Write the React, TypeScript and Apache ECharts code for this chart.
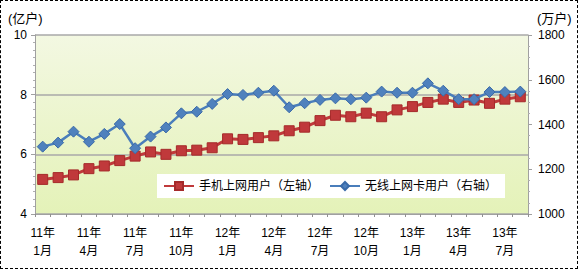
import React, { useEffect, useRef } from "react";
import * as echarts from "echarts";

const categories: string[] = [
  "11年\n1月", "11年\n2月", "11年\n3月", "11年\n4月", "11年\n5月", "11年\n6月",
  "11年\n7月", "11年\n8月", "11年\n9月", "11年\n10月", "11年\n11月", "11年\n12月",
  "12年\n1月", "12年\n2月", "12年\n3月", "12年\n4月", "12年\n5月", "12年\n6月",
  "12年\n7月", "12年\n8月", "12年\n9月", "12年\n10月", "12年\n11月", "12年\n12月",
  "13年\n1月", "13年\n2月", "13年\n3月", "13年\n4月", "13年\n5月", "13年\n6月",
  "13年\n7月", "13年\n8月",
];

const mobileUsers: number[] = [
  5.16, 5.22, 5.31, 5.52, 5.61, 5.79, 5.94, 6.08, 6.0, 6.12, 6.14, 6.22,
  6.52, 6.5, 6.56, 6.62, 6.79, 6.91, 7.13, 7.31, 7.26, 7.38, 7.26, 7.49,
  7.6, 7.74, 7.85, 7.74, 7.82, 7.71, 7.85, 7.93,
];

const cardUsers: number[] = [
  1301, 1319, 1368, 1323, 1358, 1402, 1294, 1346, 1387, 1450, 1457, 1492,
  1536, 1532, 1542, 1551, 1477, 1495, 1510, 1517, 1513, 1520, 1547, 1542,
  1542, 1584, 1551, 1513, 1513, 1545, 1545, 1547,
];

const seriesNames: string[] = ["手机上网用户（左轴）", "无线上网卡用户（右轴）"];
const leftUnit = "(亿户)";
const rightUnit = "(万户)";

const FONT = "'Liberation Sans', 'Noto Sans CJK SC', sans-serif";

export default function App() {
  const ref = useRef<HTMLDivElement>(null);
  useEffect(() => {
    document.body.style.margin = "0";
    const chart = echarts.init(ref.current!, null, { renderer: "svg" });
    chart.setOption({
      animation: false,
      textStyle: { fontFamily: FONT },
      grid: {
        left: 35,
        right: 50,
        top: 35,
        bottom: 55,
        show: true,
        borderWidth: 0,
        backgroundColor: new echarts.graphic.LinearGradient(0, 0, 0, 1, [
          { offset: 0, color: "#f3f8e2" },
          { offset: 1, color: "#e4f2b8" },
        ]),
      },
      legend: {
        left: 157,
        top: 174,
        itemWidth: 30,
        itemHeight: 10,
        itemGap: 10,
        backgroundColor: "#ffffff",
        padding: [6, 8, 6, 6],
        textStyle: { fontSize: 12, color: "#000", fontFamily: FONT },
        data: seriesNames,
      },
      xAxis: {
        type: "category",
        data: categories,
        boundaryGap: true,
        axisLine: { lineStyle: { color: "#a0a0a0", width: 1 } },
        axisTick: { show: true, interval: 0, length: 3, lineStyle: { color: "#909090" } },
        axisLabel: {
          interval: 2,
          fontSize: 12,
          color: "#000",
          lineHeight: 18,
          margin: 10,
        },
      },
      yAxis: [
        {
          type: "value",
          min: 4,
          max: 10,
          interval: 2,
          axisLine: { show: true, lineStyle: { color: "#a0a0a0" } },
          axisTick: { show: true, length: 4, lineStyle: { color: "#a0a0a0" } },
          minorTick: { show: true, splitNumber: 8, length: 2, lineStyle: { color: "#b0b0b0" } },
          axisLabel: { fontSize: 12, color: "#000", margin: 8 },
          splitLine: { show: true, lineStyle: { color: "#a8a8a8", width: 1.5 } },
        },
        {
          type: "value",
          min: 1000,
          max: 1800,
          interval: 200,
          axisLine: { show: true, lineStyle: { color: "#a0a0a0" } },
          axisTick: { show: true, length: 4, lineStyle: { color: "#a0a0a0" } },
          minorTick: { show: true, splitNumber: 4, length: 2, lineStyle: { color: "#b0b0b0" } },
          axisLabel: { fontSize: 12, color: "#000", margin: 10, formatter: (v: number) => String(v) },
          splitLine: { show: false },
        },
      ],
      graphic: [
        {
          type: "text",
          left: 8,
          top: 12,
          style: { text: leftUnit, fill: "#000", font: `13px ${FONT}` },
        },
        {
          type: "text",
          left: 537,
          top: 12,
          style: { text: rightUnit, fill: "#000", font: `13px ${FONT}` },
        },
      ],
      series: [
        {
          name: seriesNames[0],
          type: "line",
          yAxisIndex: 0,
          data: mobileUsers,
          symbol: "rect",
          symbolSize: 10,
          showAllSymbol: true,
          lineStyle: { color: "#c0393b", width: 3 },
          itemStyle: { color: "#c0393b", borderColor: "#a52a2a", borderWidth: 1 },
          z: 3,
        },
        {
          name: seriesNames[1],
          type: "line",
          yAxisIndex: 1,
          data: cardUsers,
          symbol: "diamond",
          symbolSize: 11,
          showAllSymbol: true,
          lineStyle: { color: "#4a7ebb", width: 2.5 },
          itemStyle: { color: "#4f81bd", borderColor: "#3a6aa8", borderWidth: 1 },
          z: 4,
        },
      ],
    });
    return () => chart.dispose();
  }, []);
  return (
    <div
      style={{
        position: "absolute",
        left: 0,
        top: 0,
        width: 578,
        height: 269,
        boxSizing: "border-box",
        border: "1px dashed #000",
        background: "#fff",
      }}
    >
      <div ref={ref} style={{ position: "absolute", left: -1, top: -1, width: 578, height: 269 }} />
    </div>
  );
}
